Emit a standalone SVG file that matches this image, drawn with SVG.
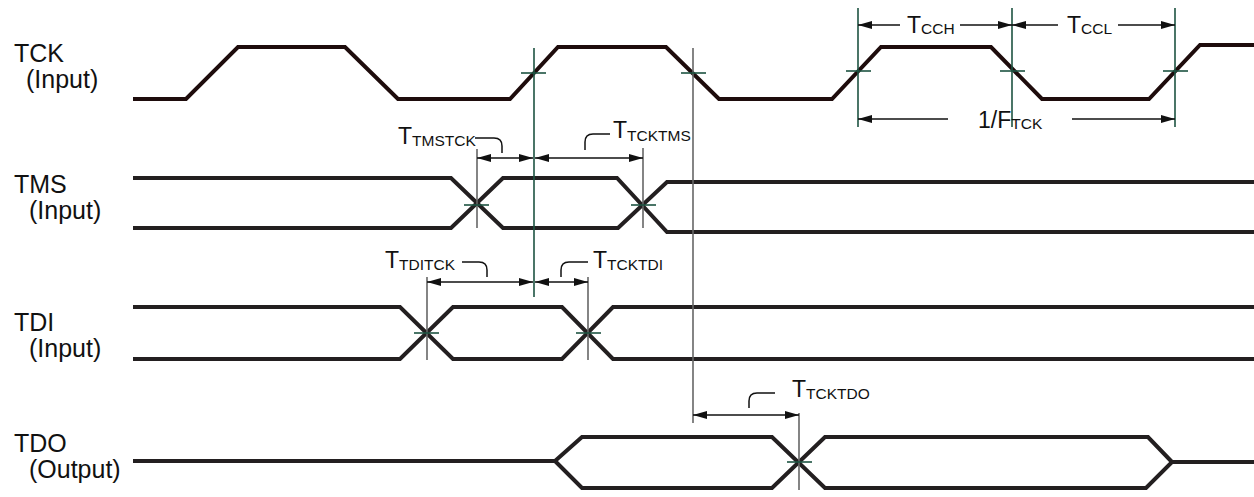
<svg xmlns="http://www.w3.org/2000/svg" width="1254" height="497" viewBox="0 0 1254 497">
<style>
.bg{fill:#ffffff}
.wave{fill:none;stroke:#231f20;stroke-width:4;stroke-linejoin:miter}
.tck{stroke:#1e0c0c}
.lbl{font-family:"Liberation Sans",Arial,sans-serif;font-size:25px;fill:#111}
.tl{font-family:"Liberation Sans",Arial,sans-serif;font-size:23px;fill:#111}
.sub{font-size:15.5px}
.ref{stroke:#1d5342;stroke-width:1.6;fill:none}
.gry{stroke:#666;stroke-width:1.6;fill:none}
.tick{stroke:#1d5342;stroke-width:1.6}
.dim{stroke:#111;stroke-width:1.5;fill:none;marker-start:url(#ah);marker-end:url(#ah)}
.dim1{stroke:#111;stroke-width:1.5;fill:none}
.lead{stroke:#111;stroke-width:1.5;fill:none}
</style>
<defs>
<marker id="ah" viewBox="0 0 14 8" refX="14" refY="4" markerWidth="14" markerHeight="8" markerUnits="userSpaceOnUse" orient="auto-start-reverse">
<path d="M0,0 L14,4 L0,8 z" fill="#111"/>
</marker>
</defs>
<rect class="bg" x="0" y="0" width="1254" height="497"/>

<g id="tck">
<text class="lbl" x="14" y="62">TCK</text>
<text class="lbl" x="26" y="88">(Input)</text>
<path class="wave tck" d="M133,99 L186,99 L238,47 L345,47 L398,99 L510,99 L558,47 L666,47 L719,99 L832,99 L881,47 L991,47 L1042,99 L1149,99 L1200,45 L1254,45"/>
</g>

<g id="tms">
<text class="lbl" x="14" y="193">TMS</text>
<text class="lbl" x="29" y="219">(Input)</text>
<path class="wave" d="M133,178 L451,178 L503,228 L618,228 L667,182 L1254,182"/>
<path class="wave" d="M133,228 L451,228 L503,178 L617,178 L667,232 L1254,232"/>
</g>

<g id="tdi">
<text class="lbl" x="14" y="331">TDI</text>
<text class="lbl" x="29" y="357">(Input)</text>
<path class="wave" d="M133,307 L400,307 L453,359 L562,359 L613,307 L1254,307"/>
<path class="wave" d="M133,359 L400,359 L453,307 L562,307 L613,359 L1254,359"/>
</g>

<g id="tdo">
<text class="lbl" x="14" y="452">TDO</text>
<text class="lbl" x="29" y="478">(Output)</text>
<path class="wave" d="M133,461 L555,461 L582,437 L772,437 L825,488 L1146,488 L1172,462 L1254,462"/>
<path class="wave" d="M555,461 L582,488 L772,488 L825,437 L1148,437 L1172,462"/>
</g>

<g id="connectors">
<line class="ref" x1="534" y1="48" x2="534" y2="297"/>
<line class="gry" x1="693" y1="48" x2="693" y2="423"/>
<line class="ref" x1="858" y1="8" x2="858" y2="127"/>
<line class="ref" x1="1012" y1="8" x2="1012" y2="127"/>
<line class="ref" x1="1175" y1="8" x2="1175" y2="127"/>
<line class="gry" x1="477" y1="149" x2="477" y2="228"/>
<line class="gry" x1="643" y1="148" x2="643" y2="228"/>
<line class="gry" x1="427" y1="277" x2="427" y2="360"/>
<line class="gry" x1="588" y1="277" x2="588" y2="360"/>
<line class="gry" x1="799" y1="413" x2="799" y2="490"/>
<line class="tick" x1="521" y1="73" x2="546" y2="73"/>
<line class="tick" x1="681" y1="73" x2="706" y2="73"/>
<line class="tick" x1="846" y1="71" x2="871" y2="71"/>
<line class="tick" x1="1000" y1="71" x2="1025" y2="71"/>
<line class="tick" x1="1163" y1="71" x2="1188" y2="71"/>
<line class="tick" x1="464" y1="205" x2="489" y2="205"/>
<line class="tick" x1="631" y1="205" x2="656" y2="205"/>
<line class="tick" x1="414" y1="333" x2="439" y2="333"/>
<line class="tick" x1="576" y1="333" x2="601" y2="333"/>
<line class="tick" x1="787" y1="462" x2="812" y2="462"/>
<line class="dim1" x1="900" y1="25" x2="858" y2="25" marker-end="url(#ah)"/>
<line class="dim1" x1="960" y1="25" x2="1012" y2="25" marker-end="url(#ah)"/>
<text class="tl" x="907" y="33">T<tspan class="sub" dy="1">CCH</tspan></text>
<line class="dim1" x1="1058" y1="25" x2="1012" y2="25" marker-end="url(#ah)"/>
<line class="dim1" x1="1118" y1="25" x2="1175" y2="25" marker-end="url(#ah)"/>
<text class="tl" x="1067" y="33">T<tspan class="sub" dy="1">CCL</tspan></text>
<line class="dim1" x1="948" y1="119" x2="858" y2="119" marker-end="url(#ah)"/>
<line class="dim1" x1="1072" y1="119" x2="1175" y2="119" marker-end="url(#ah)"/>
<text class="tl" x="978" y="128">1/F<tspan class="sub" dy="1">TCK</tspan></text>
<line class="dim" x1="477" y1="158" x2="533" y2="158"/>
<line class="dim" x1="535" y1="158" x2="643" y2="158"/>
<text class="tl" x="398" y="144">T<tspan class="sub" dy="2">TMSTCK</tspan></text>
<path class="lead" d="M475,138 L494,138 Q502,138 502,146 L502,153"/>
<text class="tl" x="613" y="138">T<tspan class="sub" dy="3">TCKTMS</tspan></text>
<path class="lead" d="M585,150 L585,142 Q585,134 593,134 L610,134"/>
<line class="dim" x1="427" y1="282" x2="533" y2="282"/>
<line class="dim" x1="535" y1="282" x2="588" y2="282"/>
<text class="tl" x="385" y="268">T<tspan class="sub" dy="2">TDITCK</tspan></text>
<path class="lead" d="M462,262 L479,262 Q487,262 487,270 L487,277"/>
<text class="tl" x="593" y="268">T<tspan class="sub" dy="2">TCKTDI</tspan></text>
<path class="lead" d="M561,277 L561,270 Q561,262 569,262 L588,262"/>
<line class="dim" x1="693" y1="415" x2="799" y2="415"/>
<text class="tl" x="792" y="397">T<tspan class="sub" dy="2">TCKTDO</tspan></text>
<path class="lead" d="M749,408 L749,401 Q749,393 757,393 L775,393"/>
</g>
</svg>
